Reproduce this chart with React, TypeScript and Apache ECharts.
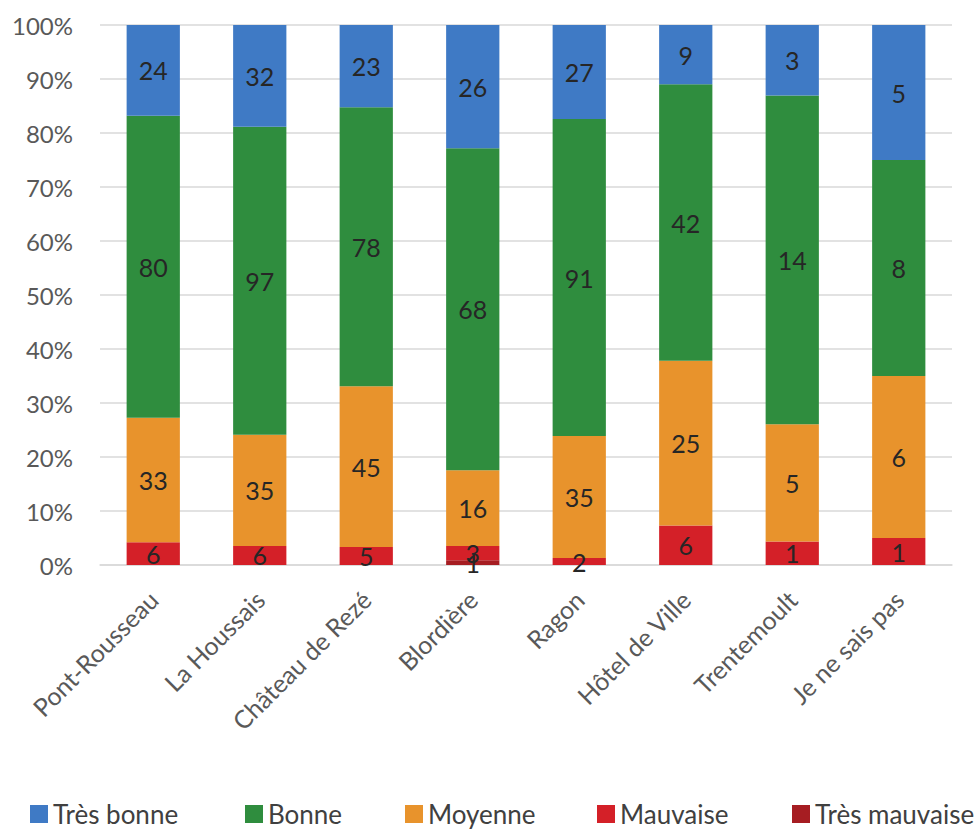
import React, { useEffect, useRef } from "react";
import * as echarts from "echarts";

const categories = [
  "Pont-Rousseau",
  "La Houssais",
  "Château de Rezé",
  "Blordière",
  "Ragon",
  "Hôtel de Ville",
  "Trentemoult",
  "Je ne sais pas",
];

const tresMauvaise = [0, 0, 0, 1, 0, 0, 0, 0];
const mauvaise = [6, 6, 5, 3, 2, 6, 1, 1];
const moyenne = [33, 35, 45, 16, 35, 25, 5, 6];
const bonne = [80, 97, 78, 68, 91, 42, 14, 8];
const tresBonne = [24, 32, 23, 26, 27, 9, 3, 5];

const yTicks = [0, 10, 20, 30, 40, 50, 60, 70, 80, 90, 100];

const seriesDefs = [
  { name: "Très mauvaise", counts: tresMauvaise, color: "#A61D22" },
  { name: "Mauvaise", counts: mauvaise, color: "#D42028" },
  { name: "Moyenne", counts: moyenne, color: "#E8932C" },
  { name: "Bonne", counts: bonne, color: "#2F8D3E" },
  { name: "Très bonne", counts: tresBonne, color: "#3F7AC5" },
];

const legendOrder = ["Très bonne", "Bonne", "Moyenne", "Mauvaise", "Très mauvaise"];
const legendLeft = [30, 245, 405, 597, 792];

const FONT = "Lato";

export default function App() {
  const ref = useRef<HTMLDivElement>(null);

  useEffect(() => {
    if (!ref.current) return;
    const chart = echarts.init(ref.current, null, { renderer: "svg" });
    const totals = categories.map((_, i) =>
      seriesDefs.reduce((s, d) => s + d.counts[i], 0)
    );
    const series = seriesDefs.map((d) => ({
      name: d.name,
      type: "bar",
      stack: "total",
      barWidth: "50%",
      itemStyle: { color: d.color },
      label: {
        show: true,
        position: "inside",
        color: "#262626",
        fontFamily: FONT,
        fontSize: 25,
        formatter: (p: any) => (p.data && p.data.count > 0 ? String(p.data.count) : ""),
      },
      data: d.counts.map((c, i) => ({
        value: c > 0 ? (c / totals[i]) * 100 : null,
        count: c,
      })),
    }));

    const legends = legendOrder.map((name, i) => ({
      data: [name],
      top: 801,
      left: legendLeft[i],
      padding: 0,
      itemWidth: 18,
      itemHeight: 18,
      icon: "rect",
      textStyle: { fontFamily: FONT, fontSize: 26, color: "#404040" },
    }));

    chart.setOption({
      animation: false,
      textStyle: { fontFamily: FONT },
      grid: { left: 100, right: 28, top: 25, bottom: 267, containLabel: false },
      legend: legends,
      xAxis: {
        type: "category",
        data: categories,
        axisTick: { show: false },
        axisLine: { lineStyle: { color: "#D9D9D9", width: 1.5 } },
        axisLabel: {
          rotate: 45,
          interval: 0,
          margin: 30,
          color: "#595959",
          fontFamily: FONT,
          fontSize: 25,
        },
      },
      yAxis: {
        type: "value",
        min: 0,
        max: 100,
        interval: 10,
        axisLine: { show: false },
        axisTick: { show: false },
        splitLine: { lineStyle: { color: "#D9D9D9", width: 1.5 } },
        axisLabel: {
          margin: 27,
          color: "#595959",
          fontFamily: FONT,
          fontSize: 24,
          formatter: (v: number) => (yTicks.includes(v) ? v + "%" : ""),
        },
      },
      series,
    });
    return () => chart.dispose();
  }, []);

  return (
    <div
      ref={ref}
      style={{ position: "absolute", left: 0, top: 0, width: 980, height: 832 }}
    />
  );
}
